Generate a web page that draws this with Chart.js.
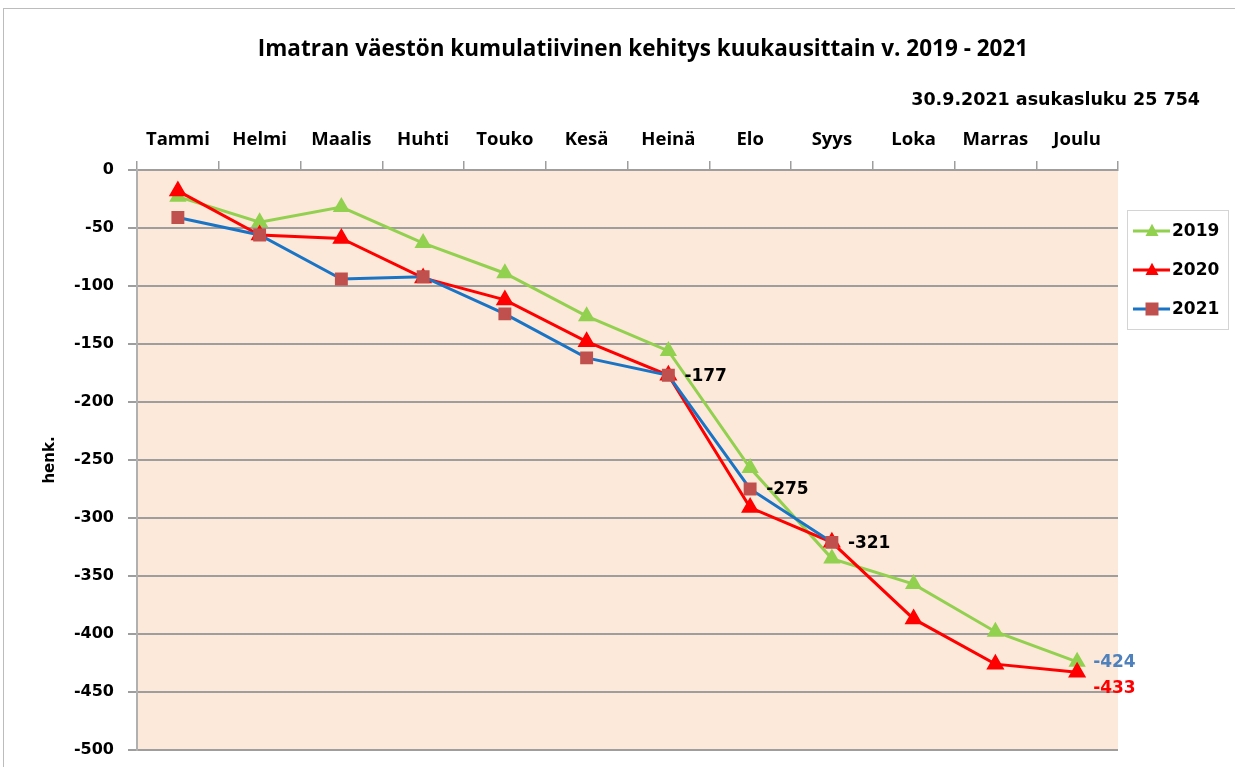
<!DOCTYPE html>
<html>
<head>
<meta charset="utf-8">
<script src="https://cdn.jsdelivr.net/npm/chart.js@4/dist/chart.umd.min.js"></script>
<style>
  html, body { margin: 0; padding: 0; background: #fff; }
  #wrap { position: absolute; left: 0; top: 0; width: 1235px; height: 767px; overflow: hidden; }
  #frame { position: absolute; left: 3px; top: 8px; width: 1250px; height: 780px; border: 1px solid #bcbcbc; }
  #myChart { position: absolute; left: 0; top: 0; }
</style>
</head>
<body>
<div id="wrap">
  <div id="frame"></div>
  <canvas id="myChart" width="1235" height="767"></canvas>
</div>
<script>
// kuukaudet
var months = ['Tammi', 'Helmi', 'Maalis', 'Huhti', 'Touko', 'Kesä', 'Heinä', 'Elo', 'Syys', 'Loka', 'Marras', 'Joulu'];
// kumulatiivinen muutos, henk.
var v2019 = [-23, -45, -32, -63, -89, -126, -156, -257, -335, -357, -398, -424];
var v2020 = [-18, -56, -59, -93, -112, -148, -177, -291, -321, -387, -426, -433];
var v2021 = [-41, -56, -94, -92, -124, -162, -177, -275, -321];
// arvolaput: sarja, kuukausi, teksti, väri
var valueLabels = [
  [2, 6, '-177', '#000000'],
  [2, 7, '-275', '#000000'],
  [2, 8, '-321', '#000000'],
  [0, 11, '-424', '#4F81BD'],
  [1, 11, '-433', '#FF0000']
];
var titleText = 'Imatran väestön kumulatiivinen kehitys kuukausittain v. 2019 - 2021';
var subText = '30.9.2021 asukasluku 25 754';

var tickFont = { family: 'DejaVu Sans', weight: 'bold', size: 16 };
var catFont = { family: 'Open Sans', weight: 'bold', size: 18.5 };

// plot area background
var plotBg = {
  id: 'plotBg',
  beforeDraw: function (chart) {
    var a = chart.chartArea, ctx = chart.ctx;
    ctx.save();
    ctx.fillStyle = '#FDE9D9';
    ctx.fillRect(a.left, a.top, a.right - a.left, a.bottom - a.top);
    ctx.restore();
  }
};

// otsikot (keskitetty koko kuvaan, ei plot-alueeseen)
var headings = {
  id: 'headings',
  afterDraw: function (chart) {
    var ctx = chart.ctx;
    ctx.save();
    ctx.fillStyle = '#000';
    ctx.textBaseline = 'middle';
    ctx.textAlign = 'center';
    ctx.font = 'bold 22.5px "Open Sans"';
    ctx.fillText(titleText, 643, 50);
    ctx.textAlign = 'right';
    ctx.font = 'bold 17.5px "DejaVu Sans"';
    ctx.fillText(subText, 1200, 100);
    ctx.restore();
  }
};

// value labels next to points
var pointLabels = {
  id: 'pointLabels',
  afterDatasetsDraw: function (chart) {
    var ctx = chart.ctx;
    ctx.save();
    ctx.font = 'bold 17px "DejaVu Sans"';
    ctx.textBaseline = 'middle';
    ctx.textAlign = 'left';
    valueLabels.forEach(function (l) {
      var pt = chart.getDatasetMeta(l[0]).data[l[1]];
      ctx.fillStyle = l[3];
      var dy = l[2] === '-433' ? 16 : 1;
      ctx.fillText(l[2], pt.x + 16, pt.y + dy);
    });
    ctx.restore();
  }
};

// legend with line + marker, in a box
function marker(ctx, style, x, y, r) {
  ctx.beginPath();
  if (style === 'rect') {
    ctx.rect(x - r, y - r, 2 * r, 2 * r);
  } else {
    ctx.moveTo(x, y - r * 1.1);
    ctx.lineTo(x + r, y + r * 0.75);
    ctx.lineTo(x - r, y + r * 0.75);
    ctx.closePath();
  }
  ctx.fill();
}
var legendBox = {
  id: 'legendBox',
  afterDraw: function (chart) {
    var ctx = chart.ctx, a = chart.chartArea;
    var x = a.right + 9, y = a.top + 40, w = 101, h = 119;
    ctx.save();
    ctx.fillStyle = '#ffffff';
    ctx.fillRect(x, y, w, h);
    ctx.strokeStyle = '#d4d4d4';
    ctx.lineWidth = 1;
    ctx.strokeRect(x + 0.5, y + 0.5, w, h);
    chart.data.datasets.forEach(function (ds, i) {
      var cy = y + 21 + i * 39;
      ctx.strokeStyle = ds.borderColor;
      ctx.lineWidth = 3;
      ctx.beginPath();
      ctx.moveTo(x + 6, cy);
      ctx.lineTo(x + 43, cy);
      ctx.stroke();
      ctx.fillStyle = ds.pointBackgroundColor;
      marker(ctx, ds.pointStyle, x + 25, cy, 6.5);
      ctx.fillStyle = '#000';
      ctx.font = 'bold 17px "DejaVu Sans"';
      ctx.textBaseline = 'middle';
      ctx.fillText(ds.label, x + 45, cy + 1);
    });
    ctx.restore();
  }
};

var ctx = document.getElementById('myChart').getContext('2d');
var chart = new Chart(ctx, {
  type: 'line',
  data: {
    labels: months,
    datasets: [{
      label: '2019',
      data: v2019,
      order: 2,
      borderColor: '#92D050',
      backgroundColor: '#92D050',
      pointBackgroundColor: '#92D050',
      pointBorderColor: '#92D050',
      pointStyle: 'triangle',
      pointRadius: 7,
      borderWidth: 3,
      tension: 0
    }, {
      label: '2020',
      data: v2020,
      order: 1,
      borderColor: '#FF0000',
      backgroundColor: '#FF0000',
      pointBackgroundColor: '#FF0000',
      pointBorderColor: '#FF0000',
      pointStyle: 'triangle',
      pointRadius: 7.5,
      borderWidth: 3,
      tension: 0
    }, {
      label: '2021',
      data: v2021,
      order: 0,
      borderColor: '#1A74C6',
      backgroundColor: '#C0504D',
      pointBackgroundColor: '#C0504D',
      pointBorderColor: '#C0504D',
      pointStyle: 'rect',
      pointRadius: 7,
      borderWidth: 3,
      tension: 0
    }]
  },
  options: {
    responsive: false,
    animation: false,
    devicePixelRatio: 1,
    layout: { padding: { top: 110, left: 10, right: 117, bottom: 0 } },
    plugins: {
      legend: { display: false },
      tooltip: { enabled: false },
      title: { display: false }
    },
    scales: {
      x: {
        position: 'top',
        offset: true,
        afterFit: function (s) { s.height = 60; },
        grid: { offset: true, drawOnChartArea: false, tickLength: 9, color: '#9E9E9E', lineWidth: 1.5 },
        border: { color: '#9E9E9E', width: 2 },
        ticks: { color: '#000', font: catFont, padding: 10, maxRotation: 0, autoSkip: false }
      },
      y: {
        min: -500,
        max: 0,
        afterFit: function (s) { s.width = 127; s.paddingBottom = 17; s.paddingTop = 0; },
        ticks: { stepSize: 50, color: '#000', font: tickFont, padding: 14 },
        grid: { color: '#9E9E9E', lineWidth: 2, tickLength: 9 },
        border: { color: '#B0B0B0', width: 2 },
        title: {
          display: true,
          text: 'henk.',
          color: '#000',
          font: { family: 'DejaVu Sans', weight: 'bold', size: 15 },
          padding: { top: 31, bottom: 0 }
        }
      }
    }
  },
  plugins: [plotBg, pointLabels, legendBox, headings]
});
</script>
</body>
</html>
